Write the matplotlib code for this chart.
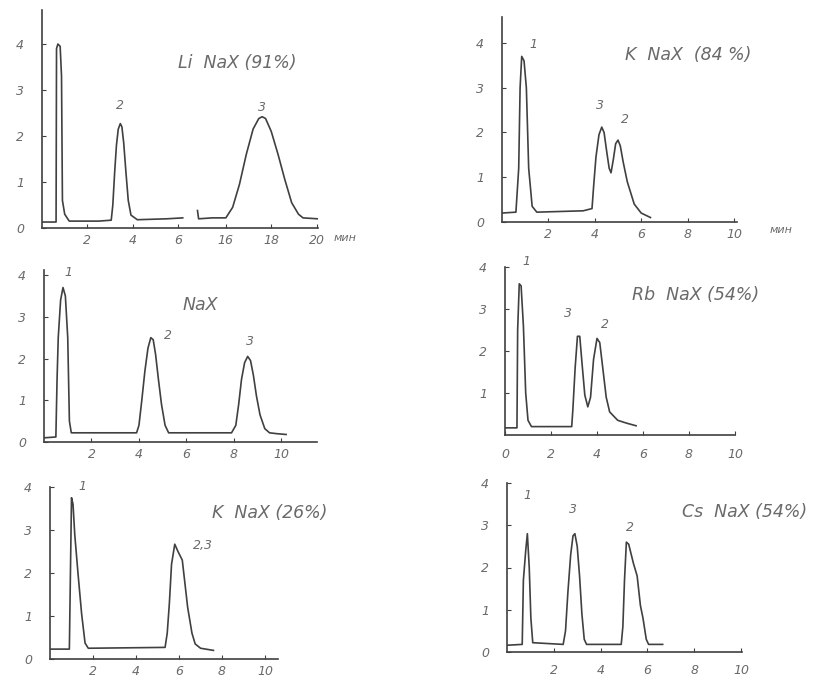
import numpy as np
import matplotlib.pyplot as plt

W, H = 827, 679

# Li NaX (91%): axis is broken between 6 and 16 min, so two pieces
li_t1 = [0.0, 0.62, 0.64, 0.70, 0.80, 0.86, 0.90, 1.0, 1.2, 2.5, 3.05, 3.12, 3.2, 3.28, 3.36,
         3.45, 3.52, 3.6, 3.7, 3.8, 3.92, 4.2, 5.5, 6.2]
li_s1 = [0.13, 0.13, 3.9, 4.0, 3.95, 3.3, 0.6, 0.3, 0.15, 0.15, 0.17, 0.5, 1.2, 1.8, 2.15,
         2.27, 2.2, 1.85, 1.2, 0.6, 0.28, 0.18, 0.2, 0.22]
li_t2 = [14.75, 14.8, 15.4, 16.0, 16.3, 16.6, 16.9, 17.2, 17.45, 17.6, 17.75, 18.0, 18.3,
         18.6, 18.9, 19.2, 19.4, 20.05]
li_s2 = [0.38, 0.2, 0.22, 0.22, 0.45, 0.95, 1.6, 2.15, 2.38, 2.42, 2.38, 2.1, 1.6,
         1.05, 0.55, 0.3, 0.22, 0.2]
BREAK_SHIFT = 7.9

# K NaX (84%)
k84_t = [0, 0.6, 0.72, 0.78, 0.85, 0.95, 1.05, 1.15, 1.3, 1.5, 3.5, 3.88, 3.95, 4.05, 4.18,
         4.3, 4.4, 4.52, 4.62, 4.7, 4.8, 4.9, 5.0, 5.1, 5.22, 5.4, 5.7, 6.0, 6.4]
k84_s = [0.2, 0.22, 1.2, 3.0, 3.7, 3.6, 3.0, 1.2, 0.35, 0.22, 0.25, 0.3, 0.8, 1.45, 1.95,
         2.12, 2.0, 1.55, 1.2, 1.1, 1.4, 1.75, 1.83, 1.7, 1.35, 0.9, 0.4, 0.2, 0.1]

# NaX
na_t = [0, 0.5, 0.55, 0.6, 0.7, 0.8, 0.9, 1.0, 1.07, 1.15, 3.9, 4.0, 4.12, 4.25, 4.38, 4.5,
        4.6, 4.7, 4.82, 4.95, 5.1, 5.25, 7.9, 8.08, 8.2, 8.32, 8.45, 8.58, 8.7, 8.82, 8.95,
        9.1, 9.3, 9.5, 9.8, 10.2]
na_s = [0.1, 0.12, 1.5, 2.5, 3.4, 3.7, 3.5, 2.5, 0.5, 0.22, 0.22, 0.4, 1.0, 1.7, 2.25, 2.5,
        2.45, 2.1, 1.5, 0.9, 0.4, 0.22, 0.22, 0.4, 0.9, 1.5, 1.9, 2.05, 1.95, 1.6, 1.1,
        0.65, 0.32, 0.22, 0.2, 0.18]

# Rb NaX (54%)
rb_t = [0, 0.52, 0.55, 0.62, 0.7, 0.8, 0.9, 1.0, 1.15, 2.9, 2.95, 3.05, 3.15, 3.25, 3.35, 3.47,
        3.6, 3.72, 3.85, 4.0, 4.12, 4.25, 4.4, 4.55, 4.9, 5.3, 5.7]
rb_s = [0.17, 0.17, 2.5, 3.6, 3.55, 2.6, 1.0, 0.35, 0.2, 0.2, 0.6, 1.6, 2.35, 2.35, 1.7, 0.95,
        0.67, 0.9, 1.8, 2.3, 2.2, 1.6, 0.9, 0.55, 0.35, 0.28, 0.22]

# K NaX (26%)
k26_t = [0, 0.9, 0.95, 1.0, 1.07, 1.15, 1.3, 1.47, 1.63, 1.78, 5.35, 5.45, 5.55, 5.65, 5.8,
         5.95, 6.15, 6.4, 6.6, 6.75, 7.0, 7.6]
k26_s = [0.23, 0.23, 2.0, 3.75, 3.6, 2.9, 2.0, 1.05, 0.37, 0.25, 0.27, 0.6, 1.3, 2.2, 2.67,
         2.5, 2.3, 1.2, 0.6, 0.35, 0.25, 0.2]

# Cs NaX (54%)
cs_t = [0, 0.65, 0.7, 0.8, 0.87, 0.95, 1.02, 1.1, 2.4, 2.5, 2.6, 2.72, 2.82, 2.9, 3.0, 3.1,
        3.2, 3.3, 3.4, 4.88, 4.95, 5.02, 5.1, 5.2, 5.4, 5.56, 5.7, 5.81, 5.95, 6.05, 6.65]
cs_s = [0.16, 0.18, 1.7, 2.4, 2.8, 2.0, 0.8, 0.22, 0.18, 0.5, 1.4, 2.3, 2.75, 2.8, 2.5, 1.8,
        0.9, 0.3, 0.18, 0.18, 0.6, 1.7, 2.6, 2.55, 2.1, 1.8, 1.1, 0.8, 0.3, 0.18, 0.18]

ink = '#404040'
pencil = '#6a6a6a'

fig = plt.figure(figsize=(W / 100, H / 100), dpi=100)


def panel(left, right, bottom, top, xmax, ymax):
    # pixel box -> figure axes
    ax = fig.add_axes([left / W, 1 - bottom / H, (right - left) / W, (bottom - top) / H])
    ax.set_xlim(0, xmax)
    ax.set_ylim(0, ymax)
    for s in ['top', 'right']:
        ax.spines[s].set_visible(False)
    for s in ['left', 'bottom']:
        ax.spines[s].set_color(ink)
        ax.spines[s].set_linewidth(1.2)
    ax.set_yticks([0, 1, 2, 3, 4])
    ax.set_yticklabels(['0', '1', '2', '3', '4'])
    ax.tick_params(axis='y', direction='in', length=3, pad=13, labelsize=9,
                   labelcolor=pencil, color=ink)
    ax.tick_params(axis='x', direction='in', length=3, pad=4, labelsize=9,
                   labelcolor=pencil, color=ink)
    ax.patch.set_alpha(0)
    return ax


def style_ticks(ax):
    for lab in ax.get_xticklabels() + ax.get_yticklabels():
        lab.set_fontstyle('italic')


def title(x, y, s):
    fig.text(x / W, 1 - y / H, s, fontsize=12.5, style='italic', color=pencil,
             ha='center', va='center')


def peak_label(ax, x, y, s):
    ax.text(x, y, s, fontsize=9, style='italic', color=pencil, ha='center', va='center')


# Li NaX (91%)
ax1 = panel(42, 318, 228, 10, 12.16, 4.74)
ax1.plot(li_t1, li_s1, color=ink, lw=1.2)
ax1.plot(np.array(li_t2) - BREAK_SHIFT, li_s2, color=ink, lw=1.2)
ax1.set_xticks([2, 4, 6, 16 - BREAK_SHIFT, 18 - BREAK_SHIFT, 20 - BREAK_SHIFT])
ax1.set_xticklabels(['2', '4', '6', '16', '18', '20'])
style_ticks(ax1)
peak_label(ax1, 3.44, 2.67, '2')
peak_label(ax1, 9.69, 2.63, '3')
fig.text(345 / W, 1 - 238 / H, 'мин', fontsize=8, style='italic', color=pencil,
         ha='center', va='center')
title(237, 63, 'Li  NaX (91%)')

# K NaX (84%)
ax2 = panel(502, 737, 222, 17, 10.13, 4.58)
ax2.plot(k84_t, k84_s, color=ink, lw=1.2)
ax2.set_xticks([2, 4, 6, 8, 10])
ax2.set_xticklabels(['2', '4', '6', '8', '10'])
style_ticks(ax2)
peak_label(ax2, 1.34, 3.96, '1')
peak_label(ax2, 4.22, 2.61, '3')
peak_label(ax2, 5.3, 2.28, '2')
fig.text(781 / W, 1 - 230 / H, 'мин', fontsize=8, style='italic', color=pencil,
         ha='center', va='center')
title(688, 55, 'K  NaX  (84 %)')

# NaX
ax3 = panel(44, 317, 442, 270, 11.5, 4.12)
ax3.plot(na_t, na_s, color=ink, lw=1.2)
ax3.set_xticks([2, 4, 6, 8, 10])
ax3.set_xticklabels(['2', '4', '6', '8', '10'])
style_ticks(ax3)
peak_label(ax3, 1.01, 4.07, '1')
peak_label(ax3, 5.23, 2.56, '2')
peak_label(ax3, 8.69, 2.4, '3')
title(200, 305, 'NaX')

# Rb NaX (54%)
ax4 = panel(505, 735, 435, 267, 9.7, 4.0)
ax4.plot(rb_t, rb_s, color=ink, lw=1.2)
ax4.set_yticks([1, 2, 3, 4])
ax4.set_yticklabels(['1', '2', '3', '4'])
ax4.set_xticks([0, 2, 4, 6, 8, 10])
ax4.set_xticklabels(['0', '2', '4', '6', '8', '10'])
ax4.tick_params(axis='x', pad=9)
style_ticks(ax4)
peak_label(ax4, 0.93, 4.12, '1')
peak_label(ax4, 2.74, 2.9, '3')
peak_label(ax4, 4.35, 2.62, '2')
title(696, 295, 'Rb  NaX (54%)')

# K NaX (26%)
ax5 = panel(50, 278, 659, 487, 10.6, 3.93)
ax5.plot(k26_t, k26_s, color=ink, lw=1.2)
ax5.set_xticks([2, 4, 6, 8, 10])
ax5.set_xticklabels(['2', '4', '6', '8', '10'])
style_ticks(ax5)
peak_label(ax5, 1.49, 4.02, '1')
peak_label(ax5, 7.1, 2.65, '2,3')
title(270, 513, 'K  NaX (26%)')

# Cs NaX (54%)
ax6 = panel(507, 742, 652, 483, 10.04, 3.93)
ax6.plot(cs_t, cs_s, color=ink, lw=1.2)
ax6.set_xticks([2, 4, 6, 8, 10])
ax6.set_xticklabels(['2', '4', '6', '8', '10'])
ax6.tick_params(axis='x', pad=9)
style_ticks(ax6)
peak_label(ax6, 0.85, 3.7, '1')
peak_label(ax6, 2.82, 3.37, '3')
peak_label(ax6, 5.26, 2.95, '2')
title(745, 512, 'Cs  NaX (54%)')

fig.savefig('out.png', dpi=100)
